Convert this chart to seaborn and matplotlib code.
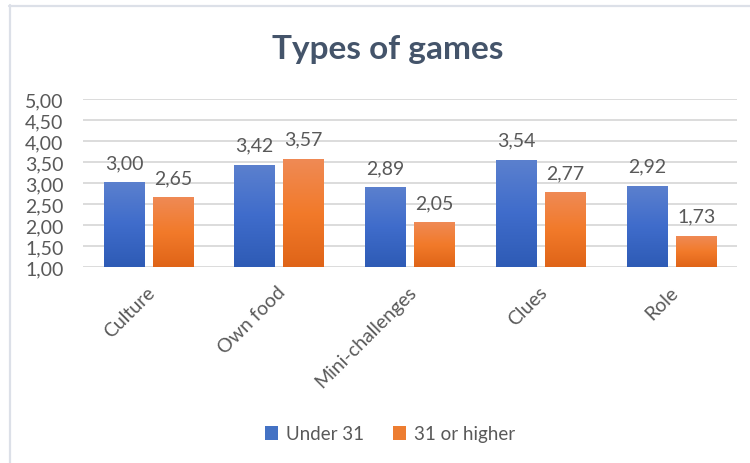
import numpy as np
import pandas as pd
import matplotlib
matplotlib.use("Agg")
import matplotlib.pyplot as plt
from matplotlib.colors import LinearSegmentedColormap
from matplotlib.patches import Patch
from matplotlib.lines import Line2D
from matplotlib.transforms import ScaledTranslation
import seaborn as sns

categories = ["Culture", "Own food", "Mini-challenges", "Clues", "Role"]
series_names = ["Under 31", "31 or higher"]
under_31 = [3.00, 3.42, 2.89, 3.54, 2.92]
over_31 = [2.65, 3.57, 2.05, 2.77, 1.73]
y_ticks = [1.0, 1.5, 2.0, 2.5, 3.0, 3.5, 4.0, 4.5, 5.0]

df = pd.DataFrame({
    "category": categories * 2,
    "group": [series_names[0]] * len(categories) + [series_names[1]] * len(categories),
    "value": under_31 + over_31,
})

sns.set_theme(style="white")
plt.rcParams["font.family"] = ["Lato", "DejaVu Sans"]

text_col = "#595959"
title_col = "#44546A"
grid_col = "#D9D9D9"
base_cols = {"Under 31": "#4472C4", "31 or higher": "#ED7D31"}
grad_stops = {
    "Under 31": ["#2E5BB5", "#3F6CCB", "#5B80CE"],
    "31 or higher": ["#DF6418", "#F27A2A", "#EF8A55"],
}

fig = plt.figure(figsize=(7.5, 4.64), dpi=100)
ax = fig.add_axes([83 / 750, 1 - 268 / 464, 654 / 750, 168 / 464])

sns.barplot(data=df, x="category", y="value", hue="group", order=categories,
            hue_order=series_names, palette=base_cols, width=0.75, gap=0.17,
            ax=ax, legend=False)

ax.set_ylim(1, 5)
ax.set_xlim(-0.5, len(categories) - 0.5)
ax.set_yticks(y_ticks)
ax.set_yticklabels([f"{v:.2f}".replace(".", ",") for v in y_ticks])
ax.yaxis.grid(True, color=grid_col, lw=1.3)
ax.set_axisbelow(True)
for s in ax.spines.values():
    s.set_visible(False)
ax.set_xlabel("")
ax.set_ylabel("")
ax.tick_params(axis="y", length=0, pad=14, labelsize=14, labelcolor=text_col)
ax.tick_params(axis="x", length=0, pad=11.5, labelsize=14, labelcolor=text_col)
shift = ScaledTranslation(-2.5 / 100, 0, fig.dpi_scale_trans)
for lab in ax.get_xticklabels():
    lab.set_rotation(45)
    lab.set_ha("right")
    lab.set_va("top")
    lab.set_rotation_mode("anchor")
    lab.set_transform(lab.get_transform() + shift)

# replace flat fills with vertical gradients and add value labels
for name, cont, vals in zip(series_names, ax.containers, [under_31, over_31]):
    cmap = LinearSegmentedColormap.from_list(name, grad_stops[name])
    grad = np.linspace(0, 1, 256).reshape(-1, 1)
    for bar, v in zip(cont, vals):
        x0 = bar.get_x()
        w = bar.get_width()
        h = bar.get_height()
        bar.set_facecolor("none")
        bar.set_edgecolor("none")
        ax.imshow(grad, cmap=cmap, aspect="auto", origin="lower",
                  extent=[x0, x0 + w, 1, h], zorder=2)
        ax.annotate(f"{v:.2f}".replace(".", ","), (x0 + w / 2, h),
                    xytext=(0, 10.5), textcoords="offset points",
                    ha="center", va="baseline", fontsize=14, color=text_col)

ax.set_xlim(-0.5, len(categories) - 0.5)
ax.set_ylim(1, 5)

fig.text(0.517, 1 - 50 / 464, "Types of games", ha="center", va="center",
         fontsize=24, fontweight="bold", color=title_col)

handles = [Patch(facecolor=base_cols[n], edgecolor="none") for n in series_names]
fig.legend(handles, series_names, loc="center", bbox_to_anchor=(0.52, 1 - 435 / 464),
           ncol=2, frameon=False, fontsize=13.5, labelcolor=text_col,
           handlelength=0.7, handleheight=0.7, handletextpad=0.45,
           columnspacing=1.5)

# chart frame
border = "#DCE0E8"
fig.add_artist(Line2D([9 / 750, 1], [1 - 6.5 / 464] * 2, color=border, lw=1.6,
                      transform=fig.transFigure))
fig.add_artist(Line2D([10 / 750] * 2, [0, 1 - 6 / 464], color=border, lw=1.6,
                      transform=fig.transFigure))

fig.savefig("out.png", dpi=100, facecolor="white")
